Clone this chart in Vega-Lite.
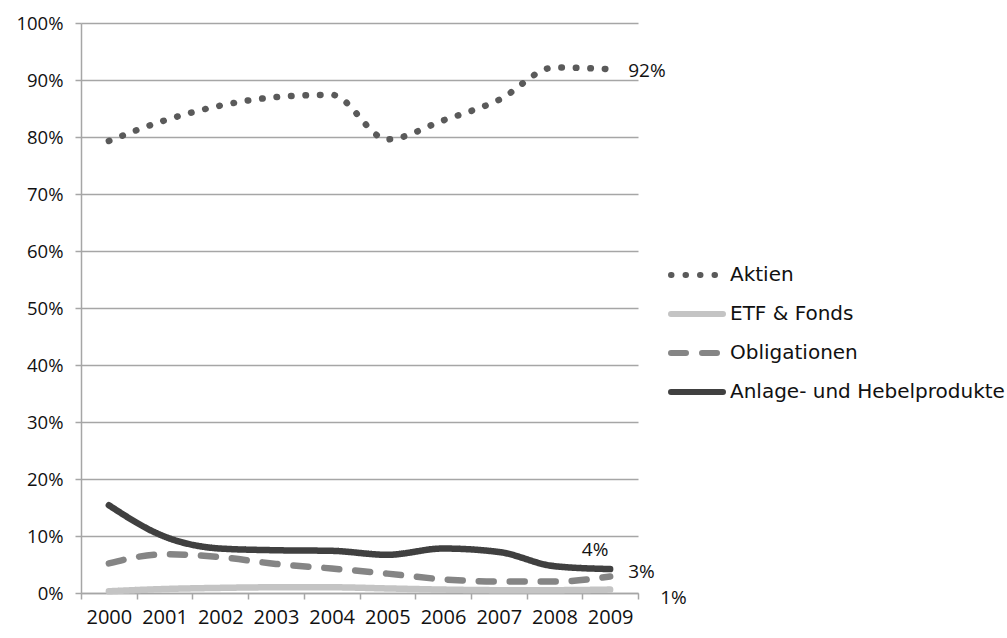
{
  "$schema": "https://vega.github.io/schema/vega-lite/v6.json",
  "autosize": {"type": "none"},
  "width": 557,
  "height": 570,
  "padding": {"left": 81, "top": 23, "right": 369, "bottom": 45},
  "background": "white",
  "datasets": {
    "series": [
      {"year": "2000", "series": "Aktien", "value": 79.3},
      {"year": "2001", "series": "Aktien", "value": 82.9},
      {"year": "2002", "series": "Aktien", "value": 85.5},
      {"year": "2003", "series": "Aktien", "value": 87.0},
      {"year": "2004", "series": "Aktien", "value": 87.4},
      {"year": "2005", "series": "Aktien", "value": 79.6},
      {"year": "2006", "series": "Aktien", "value": 82.9},
      {"year": "2007", "series": "Aktien", "value": 86.5},
      {"year": "2008", "series": "Aktien", "value": 92.2},
      {"year": "2009", "series": "Aktien", "value": 91.9},
      {"year": "2000", "series": "ETF & Fonds", "value": 0.3},
      {"year": "2001", "series": "ETF & Fonds", "value": 0.7},
      {"year": "2002", "series": "ETF & Fonds", "value": 0.9},
      {"year": "2003", "series": "ETF & Fonds", "value": 1.0},
      {"year": "2004", "series": "ETF & Fonds", "value": 1.0},
      {"year": "2005", "series": "ETF & Fonds", "value": 0.8},
      {"year": "2006", "series": "ETF & Fonds", "value": 0.6},
      {"year": "2007", "series": "ETF & Fonds", "value": 0.5},
      {"year": "2008", "series": "ETF & Fonds", "value": 0.5},
      {"year": "2009", "series": "ETF & Fonds", "value": 0.6},
      {"year": "2000", "series": "Obligationen", "value": 5.2},
      {"year": "2001", "series": "Obligationen", "value": 6.8},
      {"year": "2002", "series": "Obligationen", "value": 6.3},
      {"year": "2003", "series": "Obligationen", "value": 5.1},
      {"year": "2004", "series": "Obligationen", "value": 4.3},
      {"year": "2005", "series": "Obligationen", "value": 3.4},
      {"year": "2006", "series": "Obligationen", "value": 2.4},
      {"year": "2007", "series": "Obligationen", "value": 2.0},
      {"year": "2008", "series": "Obligationen", "value": 2.0},
      {"year": "2009", "series": "Obligationen", "value": 2.9},
      {"year": "2000", "series": "Anlage- und Hebelprodukte", "value": 15.4},
      {"year": "2001", "series": "Anlage- und Hebelprodukte", "value": 9.9},
      {"year": "2002", "series": "Anlage- und Hebelprodukte", "value": 7.8},
      {"year": "2003", "series": "Anlage- und Hebelprodukte", "value": 7.5},
      {"year": "2004", "series": "Anlage- und Hebelprodukte", "value": 7.4},
      {"year": "2005", "series": "Anlage- und Hebelprodukte", "value": 6.7},
      {"year": "2006", "series": "Anlage- und Hebelprodukte", "value": 7.8},
      {"year": "2007", "series": "Anlage- und Hebelprodukte", "value": 7.2},
      {"year": "2008", "series": "Anlage- und Hebelprodukte", "value": 4.7},
      {"year": "2009", "series": "Anlage- und Hebelprodukte", "value": 4.2}
    ],
    "labels": [
      {"year": "2009", "series": "Aktien", "value": 91.9, "label": "92%"},
      {"year": "2009", "series": "Anlage- und Hebelprodukte", "value": 4.2, "label": "4%"},
      {"year": "2009", "series": "Obligationen", "value": 2.9, "label": "3%"},
      {"year": "2009", "series": "ETF & Fonds", "value": 0.6, "label": "1%"}
    ]
  },
  "config": {
    "view": {"stroke": null},
    "axis": {
      "labelFont": "Open Sans",
      "labelColor": "#111111",
      "domainColor": "#a6a6a6",
      "tickColor": "#a6a6a6",
      "gridColor": "#a6a6a6",
      "domainWidth": 1.5,
      "tickWidth": 1.5,
      "gridWidth": 1.5
    }
  },
  "layer": [
    {
      "data": {"name": "series"},
      "mark": {"type": "line", "interpolate": "monotone", "strokeCap": "round", "strokeWidth": 6.5},
      "encoding": {
        "x": {
          "field": "year",
          "type": "nominal",
          "scale": {"type": "band", "paddingInner": 0, "paddingOuter": 0},
          "axis": {
            "title": null,
            "labelAngle": 0,
            "labelFontSize": 20,
            "labelPadding": 8,
            "tickBand": "extent",
            "tickSize": 6,
            "grid": false
          }
        },
        "y": {
          "field": "value",
          "type": "quantitative",
          "scale": {"domain": [0, 100], "nice": false},
          "axis": {
            "title": null,
            "values": [0, 10, 20, 30, 40, 50, 60, 70, 80, 90, 100],
            "labelExpr": "datum.value + '%'",
            "labelFontSize": 18.5,
            "labelPadding": 12,
            "tickSize": 6,
            "grid": true
          }
        },
        "color": {
          "field": "series",
          "type": "nominal",
          "scale": {
            "domain": ["Aktien", "ETF & Fonds", "Obligationen", "Anlage- und Hebelprodukte"],
            "range": ["#5a5a5a", "#c4c4c4", "#858585", "#404040"]
          },
          "legend": {
            "orient": "none",
            "legendX": 587,
            "legendY": 232.5,
            "title": null,
            "symbolType": "stroke",
            "symbolSize": 2704,
            "symbolStrokeWidth": 6,
            "labelFont": "DejaVu Sans",
            "labelFontSize": 20,
            "labelColor": "#111111",
            "labelOffset": 4,
            "labelLimit": 0,
            "rowPadding": 0,
            "clipHeight": 38.8,
            "encoding": {"symbols": {"strokeCap": {"value": "round"}}}
          }
        },
        "strokeDash": {
          "field": "series",
          "type": "nominal",
          "scale": {
            "domain": ["Aktien", "ETF & Fonds", "Obligationen", "Anlage- und Hebelprodukte"],
            "range": [[0.5, 14], [1, 0], [15, 16], [1, 0]]
          }
        }
      }
    },
    {
      "data": {"name": "labels"},
      "transform": [{"filter": "datum.label == '92%'"}],
      "mark": {"type": "text", "align": "left", "baseline": "middle", "dx": 18, "dy": 2, "font": "Open Sans", "fontSize": 19, "color": "#111111"},
      "encoding": {"x": {"field": "year", "type": "nominal"}, "y": {"field": "value", "type": "quantitative"}, "text": {"field": "label"}}
    },
    {
      "data": {"name": "labels"},
      "transform": [{"filter": "datum.label == '4%'"}],
      "mark": {"type": "text", "align": "center", "baseline": "middle", "dx": -15, "dy": -19, "font": "Open Sans", "fontSize": 19, "color": "#111111"},
      "encoding": {"x": {"field": "year", "type": "nominal"}, "y": {"field": "value", "type": "quantitative"}, "text": {"field": "label"}}
    },
    {
      "data": {"name": "labels"},
      "transform": [{"filter": "datum.label == '3%'"}],
      "mark": {"type": "text", "align": "left", "baseline": "middle", "dx": 18, "dy": -4, "font": "Open Sans", "fontSize": 19, "color": "#111111"},
      "encoding": {"x": {"field": "year", "type": "nominal"}, "y": {"field": "value", "type": "quantitative"}, "text": {"field": "label"}}
    },
    {
      "data": {"name": "labels"},
      "transform": [{"filter": "datum.label == '1%'"}],
      "mark": {"type": "text", "align": "left", "baseline": "middle", "dx": 50, "dy": 8, "font": "Open Sans", "fontSize": 19, "color": "#111111"},
      "encoding": {"x": {"field": "year", "type": "nominal"}, "y": {"field": "value", "type": "quantitative"}, "text": {"field": "label"}}
    }
  ]
}
